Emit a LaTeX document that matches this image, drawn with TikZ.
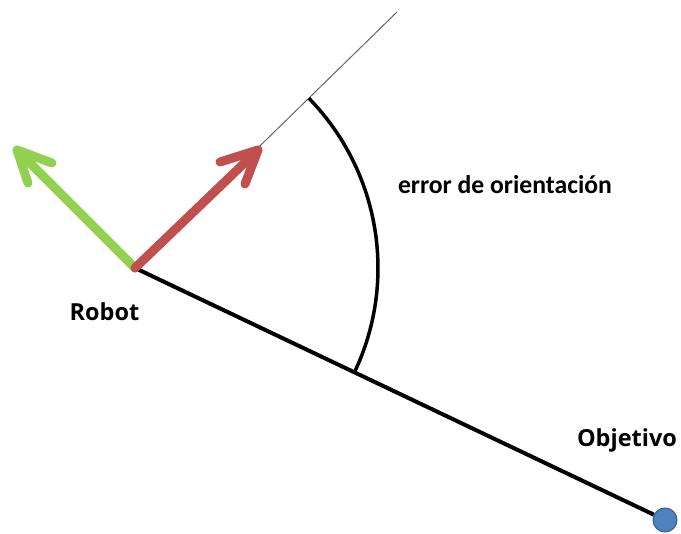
\documentclass[tikz,border=0pt]{standalone}
\usepackage{fontspec}
\setmainfont{Carlito}
\newfontfamily\labelfont{Open Sans}
\begin{document}
\begin{tikzpicture}[x=1pt,y=-1pt,
  lbl/.style={font=\labelfont\bfseries\fontsize{23.5}{27}\selectfont, inner sep=0pt},
  errlbl/.style={font=\bfseries\fontsize{25.7}{29}\selectfont, inner sep=0pt},
  vec/.style={line width=9pt, line cap=round, line join=round},
  thin ray/.style={draw=gray!80!black, line width=1pt},
  main line/.style={line width=4pt},
  angle arc/.style={line width=3.5pt}]
\useasboundingbox (0,0) rectangle (681,534);
\fill[white] (0,0) rectangle (681,534);
\coordinate (O) at (135,268);
\coordinate (far) at (397,12);
\node[circle, fill={rgb,255:red,79;green,129;blue,189}, draw={rgb,255:red,56;green,93;blue,138}, line width=1pt, minimum size=24pt, inner sep=0pt] (obj) at (665,520) {};
\draw[thin ray] (O) -- (far);
\draw[main line] (O) -- (obj);
\draw[angle arc] (O) ++(-44.3:243) arc[start angle=-44.3, end angle=25.4, radius=243];
\coordinate (gtip) at (17,150);
\coordinate (gb1) at (52,163);
\coordinate (gb2) at (28,183);
\draw[vec, draw={rgb,255:red,146;green,208;blue,80}] (O) -- (gtip) (gb1) -- (gtip) -- (gb2);
\coordinate (rtip) at (258,150);
\coordinate (rb1) at (220,162);
\coordinate (rb2) at (245,184);
\draw[vec, draw={rgb,255:red,192;green,80;blue,77}] (O) -- (rtip) (rb1) -- (rtip) -- (rb2);
\node[lbl] (robot) at (104.5,312) {Robot};
\node[lbl] (objetivo) at (627,440) {Objetivo};
\node[errlbl] (err) at (505,185) {error de orientación};
\end{tikzpicture}
\end{document}
